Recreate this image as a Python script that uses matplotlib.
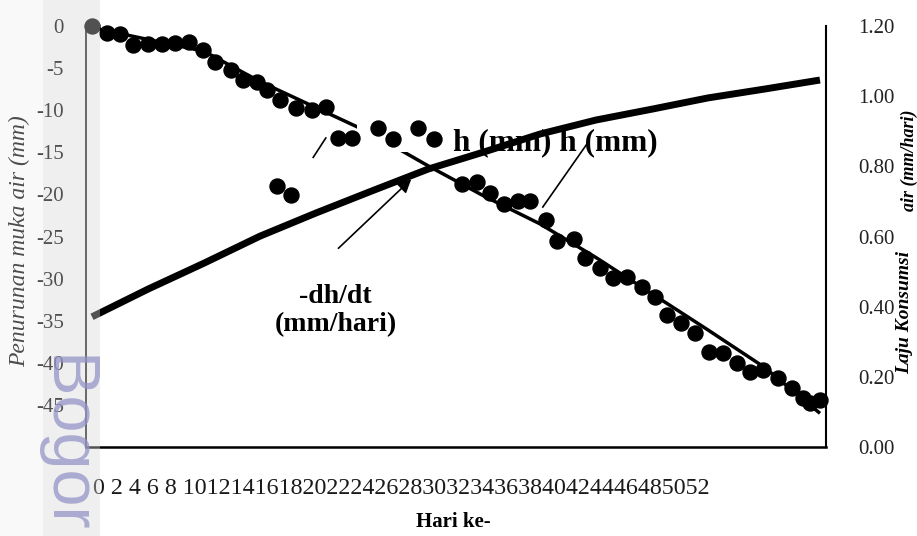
import matplotlib
matplotlib.use('Agg')
import matplotlib.pyplot as plt
from matplotlib.patches import Rectangle

plt.rcParams['font.family'] = ['Liberation Serif', 'DejaVu Serif']

# ---------------- data ----------------
obs_day = [0.0, 1.1, 2.0, 2.9, 4.0, 5.0, 5.9, 6.9, 7.9, 8.8,
           9.9, 10.8, 11.8, 12.5, 13.4, 14.6, 15.7, 16.7, 17.6, 18.6,
           20.4, 21.5, 23.3, 24.4, 26.4, 27.5, 28.4, 29.4, 30.4, 31.3,
           32.4, 33.2, 34.4, 35.2, 36.3, 37.2, 38.2, 39.3, 40.2, 41.1,
           42.1, 43.1, 44.1, 45.1, 46.1, 47.0, 47.9, 49.0, 50.0, 50.8,
           51.3, 52.0]
obs_h = [0.0, -0.8, -1.0, -2.3, -2.1, -2.1, -2.0, -1.9, -2.9, -4.3,
         -5.2, -6.4, -6.7, -7.6, -8.8, -9.7, -10.0, -9.6, -13.3, -13.3,
         -12.1, -13.4, -12.1, -13.4, -18.8, -18.5, -19.8, -21.1, -20.8, -20.8,
         -23.0, -25.5, -25.3, -27.6, -28.7, -29.9, -29.8, -31.0, -32.2, -34.3,
         -35.3, -36.5, -38.7, -38.8, -40.0, -41.1, -40.9, -41.8, -43.0, -44.2,
         -44.8, -44.4]
out_day = [13.2, 14.2]
out_h = [-19.0, -20.1]

fit_day = [0, 4, 8, 12, 16, 20, 24, 28, 32, 36, 40, 44, 48, 52]
fit_h = [-0.2, -1.6, -3.0, -6.6, -9.7, -12.8, -16.6, -20.2, -23.5, -27.5,
         -31.8, -36.1, -40.5, -46.0]
rate = [0.371, 0.450, 0.524, 0.601, 0.667, 0.730, 0.792, 0.841, 0.892,
        0.932, 0.963, 0.995, 1.020, 1.046]

left_ticks = [0, -5, -10, -15, -20, -25, -30, -35, -40, -45]
right_ticks = [0.0, 0.2, 0.4, 0.6, 0.8, 1.0, 1.2]
x_tick_labels = ['0', '2', '4', '6', '8', '10', '12', '14', '16', '18', '20',
                 '22', '24', '26', '28', '30', '32', '34', '36', '38', '40',
                 '42', '44', '46', '48', '50', '52']

# ---------------- figure ----------------
W, H = 917, 536
fig = plt.figure(figsize=(W / 100, H / 100), dpi=100)
ax = fig.add_axes([86 / W, 1 - 447 / H, 740 / W, 421 / H])
ax2 = ax.twinx()

ax.set_xlim(-0.43, 52.43)
ax.set_ylim(-50, 0)
ax2.set_ylim(0, 1.2)

# fitted h curve
ax.plot(fit_day, fit_h, color='black', lw=2.5, zorder=2, solid_capstyle='butt')
# white box that hides part of the curve
ax.add_patch(Rectangle((18.9, -15.0), 5.0, 6.2, facecolor='white',
                       edgecolor='none', zorder=2.5))
# observed points
ax.plot(obs_day, obs_h, 'o', color='black', ms=10.8, zorder=3, clip_on=False)
ax.plot(out_day, out_h, 'o', color='black', ms=10.8, zorder=3)

# -dh/dt curve
ax2.plot(fit_day, rate, color='black', lw=5, solid_capstyle='butt', zorder=3)

# annotations
ax.text(25.8, -13.9, 'h (mm) h (mm)', fontsize=22.5, fontweight='bold',
        ha='left', va='center', zorder=2)
ax.plot([35.4, 32.2], [-13.9, -21.5], color='black', lw=1.2, zorder=4)
ax.plot([15.8, 16.7], [-15.6, -13.3], color='black', lw=1.2, zorder=4)
ax.text(17.4, -33.8, '-dh/dt\n(mm/hari)', fontsize=20, fontweight='bold',
        ha='center', va='center', linespacing=1.2, zorder=4)
ax.annotate('', xy=(22.8, -18.2), xytext=(17.6, -26.4),
            arrowprops=dict(arrowstyle='-|>', lw=1.2, color='black',
                            mutation_scale=20, shrinkA=0, shrinkB=0), zorder=4)

# axes styling
ax.set_xticks([])
ax.set_yticks(left_ticks)
ax.set_yticklabels([str(t) for t in left_ticks])
ax.tick_params(axis='y', length=0, pad=16, labelsize=15, labelcolor='#000000')
ax2.set_yticks(right_ticks)
ax2.set_yticklabels(['%.2f' % t for t in right_ticks])
ax2.tick_params(axis='y', length=0, pad=23, labelsize=15, labelcolor='#222222')

for s in ['top', 'right']:
    ax.spines[s].set_visible(False)
for s in ['top', 'left', 'bottom']:
    ax2.spines[s].set_visible(False)
ax.spines['left'].set_linewidth(1.2)
ax.spines['bottom'].set_linewidth(1.8)
ax2.spines['right'].set_linewidth(1.5)

ax.set_ylabel('Penurunan muka air (mm)', fontsize=17, style='italic',
              color='#000000')
ax.yaxis.label.set_verticalalignment('center')
ax.yaxis.set_label_coords((20 - 86) / 740, (447 - 241) / 421)

# x "tick labels" rendered as in the reference (crammed into one line)
x_text = ' '.join(x_tick_labels[:5]) + ' ' + ''.join(x_tick_labels[5:])
fig.text(93 / W, 1 - 489 / H, x_text, fontsize=17.3, ha='left', va='center',
         color='#1a1a1a', zorder=3)
fig.text(453 / W, 1 - 522 / H, 'Hari ke-', fontsize=15, fontweight='bold',
         ha='center', va='center', zorder=3)

# right axis label (two pieces)
fig.text(905 / W, 1 - 313 / H, 'Laju Konsumsi', fontsize=14, fontweight='bold',
         style='italic', rotation=90, ha='center', va='center')
fig.text(909 / W, 1 - 160 / H, 'air (mm/hari)', fontsize=13, fontweight='bold',
         style='italic', rotation=90, ha='center', va='center')

# faded left margin overlay
fig.add_artist(Rectangle((0, 0), 43 / W, 1, transform=fig.transFigure,
                         facecolor='#efefef', alpha=0.32, edgecolor='none',
                         zorder=10))
fig.add_artist(Rectangle((43 / W, 0), 57 / W, 1, transform=fig.transFigure,
                         facecolor='#d6d6d6', alpha=0.38, edgecolor='none',
                         zorder=10))
# watermark
fig.text(70 / W, 1 - 350 / H, 'Bogor A', rotation=-90, fontsize=48,
         family='Liberation Sans', color='#9494c9', alpha=0.75,
         ha='center', va='top', zorder=11)

fig.savefig('out.png', dpi=100)
